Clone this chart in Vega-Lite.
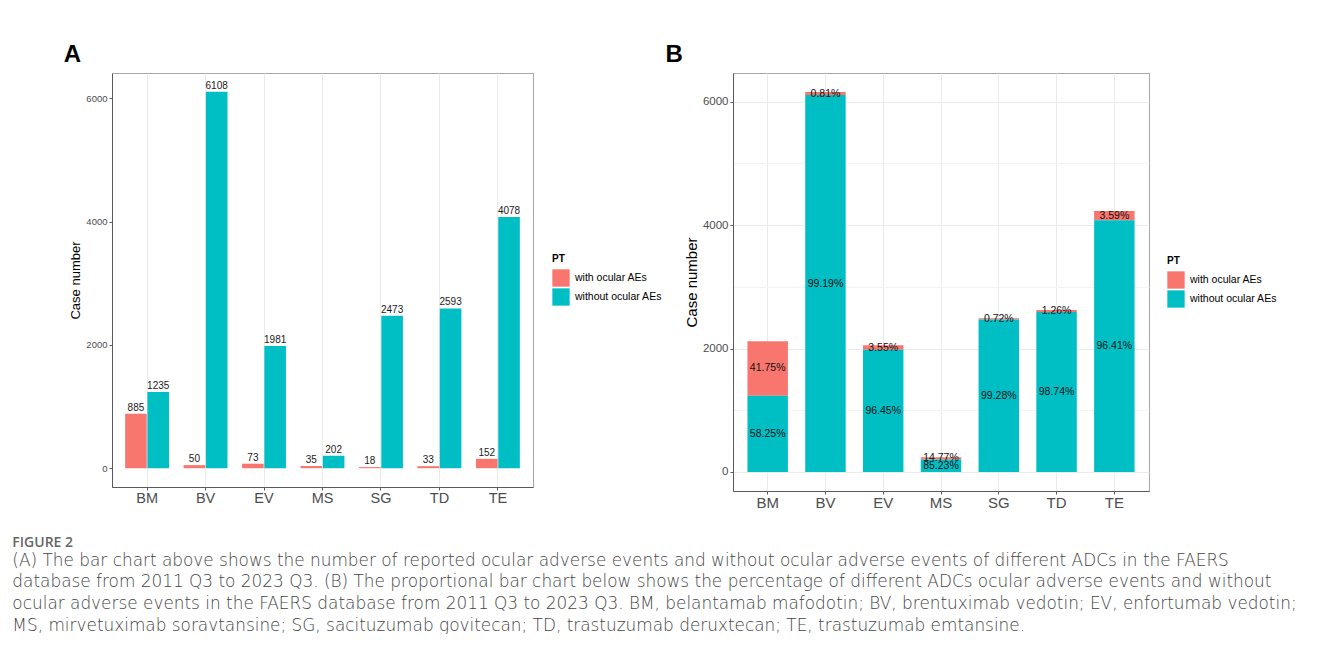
{
  "$schema": "https://vega.github.io/schema/vega-lite/v6.json",
  "background": "white",
  "padding": {"left": 12, "top": 42, "right": 0, "bottom": 0},
  "datasets": {
    "ae": [
      {"drug": "BM", "PT": "with ocular AEs", "n": 885, "pct": "41.75%"},
      {"drug": "BM", "PT": "without ocular AEs", "n": 1235, "pct": "58.25%"},
      {"drug": "BV", "PT": "with ocular AEs", "n": 50, "pct": "0.81%"},
      {"drug": "BV", "PT": "without ocular AEs", "n": 6108, "pct": "99.19%"},
      {"drug": "EV", "PT": "with ocular AEs", "n": 73, "pct": "3.55%"},
      {"drug": "EV", "PT": "without ocular AEs", "n": 1981, "pct": "96.45%"},
      {"drug": "MS", "PT": "with ocular AEs", "n": 35, "pct": "14.77%"},
      {"drug": "MS", "PT": "without ocular AEs", "n": 202, "pct": "85.23%"},
      {"drug": "SG", "PT": "with ocular AEs", "n": 18, "pct": "0.72%"},
      {"drug": "SG", "PT": "without ocular AEs", "n": 2473, "pct": "99.28%"},
      {"drug": "TD", "PT": "with ocular AEs", "n": 33, "pct": "1.26%"},
      {"drug": "TD", "PT": "without ocular AEs", "n": 2593, "pct": "98.74%"},
      {"drug": "TE", "PT": "with ocular AEs", "n": 152, "pct": "3.59%"},
      {"drug": "TE", "PT": "without ocular AEs", "n": 4078, "pct": "96.41%"}
    ]
  },
  "title": {
    "text": "FIGURE 2",
    "subtitle": [
      "(A) The bar chart above shows the number of reported ocular adverse events and without ocular adverse events of different ADCs in the FAERS",
      "database from 2011 Q3 to 2023 Q3. (B) The proportional bar chart below shows the percentage of different ADCs ocular adverse events and without",
      "ocular adverse events in the FAERS database from 2011 Q3 to 2023 Q3. BM, belantamab mafodotin; BV, brentuximab vedotin; EV, enfortumab vedotin;",
      "MS, mirvetuximab soravtansine; SG, sacituzumab govitecan; TD, trastuzumab deruxtecan; TE, trastuzumab emtansine."
    ],
    "orient": "bottom",
    "anchor": "start",
    "frame": "bounds",
    "dx": -51,
    "offset": 25,
    "font": "Open Sans",
    "fontSize": 14,
    "fontWeight": 600,
    "color": "#666666",
    "subtitleFont": "DejaVu Sans",
    "subtitleFontSize": 16.9,
    "subtitleFontWeight": 200,
    "subtitleColor": "#444444",
    "subtitleLineHeight": 21.8,
    "subtitlePadding": 3
  },
  "spacing": 1,
  "resolve": {
    "scale": {"x": "independent", "y": "independent", "color": "independent", "xOffset": "independent"},
    "legend": {"color": "independent"},
    "axis": {"x": "independent", "y": "independent"}
  },
  "hconcat": [
    {
      "width": 421,
      "height": 414,
      "data": {"name": "ae"},
      "title": {"text": "A", "anchor": "start", "frame": "bounds", "fontSize": 24, "fontWeight": "bold", "font": "Liberation Sans", "color": "#000000", "offset": 6, "dx": -6},
      "encoding": {
        "x": {
          "field": "drug", "type": "nominal", "sort": null,
          "scale": {"paddingInner": 0.25, "paddingOuter": 0.225},
          "axis": {"title": null, "labelAngle": 0, "labelFontSize": 14.5, "grid": true, "tickSize": 3, "labelPadding": 1}
        },
        "xOffset": {"field": "PT", "type": "nominal", "scale": {"paddingInner": 0.03}},
        "y": {
          "field": "n", "type": "quantitative",
          "scale": {"domain": [-305, 6413], "nice": false, "zero": false},
          "axis": {"title": "Case number", "values": [0, 2000, 4000, 6000], "format": "d", "grid": false, "labelFontSize": 9.5, "titleFontSize": 13, "tickSize": 3, "labelPadding": 2, "titlePadding": 3}
        }
      },
      "layer": [
        {
          "mark": {"type": "bar"},
          "encoding": {
            "color": {
              "field": "PT", "type": "nominal",
              "scale": {"domain": ["with ocular AEs", "without ocular AEs"], "range": ["#F8766D", "#00BFC4"]},
              "legend": {"title": "PT", "orient": "none", "legendX": 440, "legendY": 181}
            }
          }
        },
        {
          "mark": {"type": "text", "baseline": "bottom", "dy": -1, "fontSize": 10, "font": "Liberation Sans", "color": "#1a1a1a"},
          "encoding": {"text": {"field": "n", "type": "quantitative", "format": "d"}}
        }
      ]
    },
    {
      "width": 416,
      "height": 418,
      "data": {"name": "ae"},
      "title": {"text": "B", "anchor": "start", "frame": "bounds", "fontSize": 24, "fontWeight": "bold", "font": "Liberation Sans", "color": "#000000", "offset": 6, "dx": -19},
      "encoding": {
        "x": {
          "field": "drug", "type": "nominal", "sort": null,
          "scale": {"paddingInner": 0.3, "paddingOuter": 0.25},
          "axis": {"title": null, "labelAngle": 0, "labelFontSize": 15, "grid": true, "tickSize": 3, "labelPadding": 1}
        }
      },
      "layer": [
        {
          "mark": {"type": "bar"},
          "encoding": {
            "y": {
              "field": "n", "type": "quantitative", "stack": "zero",
              "scale": {"domain": [-308, 6466], "nice": false, "zero": false},
              "axis": {
                "title": "Case number", "values": [0, 1000, 2000, 3000, 4000, 5000, 6000], "format": "d",
                "labelExpr": "datum.value % 2000 === 0 ? datum.label : ''",
                "grid": true,
                "gridColor": {"condition": {"test": "datum.value % 2000 === 0", "value": "#ebebeb"}, "value": "#f3f3f3"},
                "tickOpacity": {"condition": {"test": "datum.value % 2000 === 0", "value": 1}, "value": 0},
                "labelFontSize": 11.5, "titleFontSize": 15, "tickSize": 3, "labelPadding": 2, "titlePadding": 3
              }
            },
            "order": {"field": "PT", "sort": "descending"},
            "color": {
              "field": "PT", "type": "nominal",
              "scale": {"domain": ["with ocular AEs", "without ocular AEs"], "range": ["#F8766D", "#00BFC4"]},
              "legend": {"title": "PT", "orient": "none", "legendX": 434, "legendY": 183}
            }
          }
        },
        {
          "transform": [
            {"stack": "n", "groupby": ["drug"], "sort": [{"field": "PT", "order": "descending"}], "as": ["y0", "y1"]},
            {"fold": ["y0", "y1"], "as": ["edge", "yv"]},
            {"aggregate": [{"op": "mean", "field": "yv", "as": "ymid"}], "groupby": ["drug", "PT", "pct"]}
          ],
          "mark": {"type": "text", "baseline": "middle", "fontSize": 10.5, "font": "Liberation Sans", "color": "#111111"},
          "encoding": {
            "y": {
              "field": "ymid", "type": "quantitative",
              "scale": {"domain": [-308, 6466], "nice": false, "zero": false},
              "axis": {
                "title": "Case number", "values": [0, 1000, 2000, 3000, 4000, 5000, 6000], "format": "d",
                "labelExpr": "datum.value % 2000 === 0 ? datum.label : ''",
                "grid": true,
                "gridColor": {"condition": {"test": "datum.value % 2000 === 0", "value": "#ebebeb"}, "value": "#f3f3f3"},
                "tickOpacity": {"condition": {"test": "datum.value % 2000 === 0", "value": 1}, "value": 0},
                "labelFontSize": 11.5, "titleFontSize": 15, "tickSize": 3, "labelPadding": 2, "titlePadding": 3
              }
            },
            "text": {"field": "pct", "type": "nominal"}
          }
        }
      ]
    }
  ],
  "config": {
    "view": {"stroke": "#a6a6a6", "strokeWidth": 1},
    "axis": {
      "labelFont": "Liberation Sans", "titleFont": "Liberation Sans",
      "labelColor": "#4d4d4d", "titleColor": "#000000", "titleFontWeight": "normal",
      "domainColor": "#5a5a5a", "tickColor": "#5a5a5a", "gridColor": "#ebebeb"
    },
    "legend": {
      "titleFont": "Liberation Sans", "titleFontSize": 10, "titleFontWeight": "bold", "titleColor": "#000000", "titlePadding": 5,
      "labelFont": "Liberation Sans", "labelFontSize": 10.5, "labelColor": "#000000", "labelOffset": 5,
      "symbolType": "square", "symbolSize": 300, "symbolStrokeWidth": 0, "symbolOpacity": 1, "rowPadding": 1
    }
  }
}
